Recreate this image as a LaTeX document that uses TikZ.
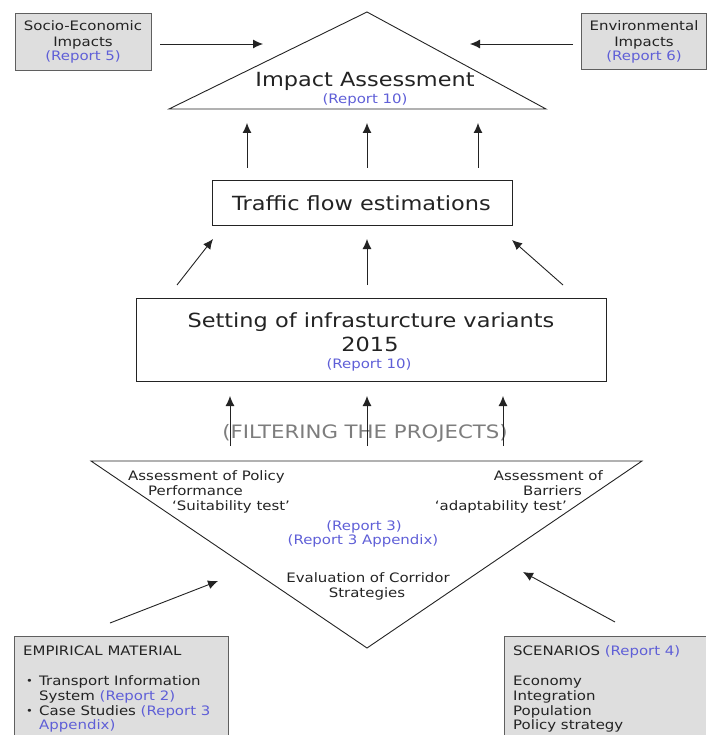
\documentclass[tikz,border=0pt]{standalone}
\usepackage{fontspec}
\setmainfont{DejaVu Sans}[FakeStretch=1.15]
\usetikzlibrary{arrows.meta,calc}
\definecolor{repc}{RGB}{95,95,215}
\definecolor{boxfill}{RGB}{222,222,222}
\definecolor{boxline}{RGB}{95,95,95}
\definecolor{filt}{RGB}{125,125,125}
\definecolor{ink}{RGB}{35,35,35}
\newcommand{\smallf}{\fontsize{13}{15}\selectfont}
\newcommand{\largef}{\fontsize{19.5}{23}\selectfont}
\newcommand{\filtf}{\fontsize{18.5}{22}\selectfont}
\newcommand{\bluetxt}[1]{\textcolor{repc}{#1}}
\begin{document}
\begin{tikzpicture}[x=1pt,y=-1pt,
  arr/.style={-{Latex[length=10pt,width=9pt]}, line width=0.9pt, draw=ink},
  ln/.style={line width=0.9pt, draw=ink},
  gbox/.style={draw=boxline, fill=boxfill, line width=0.9pt, inner sep=0pt},
  wbox/.style={draw=ink, line width=0.9pt, inner sep=0pt},
  st/.style={inner sep=0pt, text=ink, font=\smallf, anchor=base},
  stl/.style={st, anchor=base west},
  str/.style={st, anchor=base east},
  bt/.style={inner sep=0pt, text=ink, font=\largef, anchor=base},
  rt/.style={inner sep=0pt, text=repc, font=\smallf, anchor=base},
]
\useasboundingbox (0,0) rectangle (706,735);

% ---------- top side boxes ----------
\node[gbox, minimum width=136pt, minimum height=57pt] (socio) at (83,41.5) {};
\node[st] (socio1) at (83,30.7) {Socio-Economic};
\node[st] (socio2) at (83,46.5) {Impacts};
\node[rt] (socio3) at (83,60.5) {(Report 5)};

\node[gbox, minimum width=125pt, minimum height=56pt] (env) at (643.5,41) {};
\node[st] (env1) at (644,30.7) {Environmental};
\node[st] (env2) at (644,46.5) {Impacts};
\node[rt] (env3) at (644,60.5) {(Report 6)};

% ---------- impact assessment triangle ----------
\coordinate (iaTop) at (367,12);
\coordinate (iaL) at (169,109);
\coordinate (iaR) at (546,109);
\draw[ln] (iaL) -- (iaTop) -- (iaR) -- cycle;
\node[bt] (ia) at (365,87) {Impact Assessment};
\node[rt] (iarep) at (365,104) {(Report 10)};

\coordinate (sociotail) at (160,44);
\coordinate (sociohead) at (263,44);
\coordinate (envtail) at (573,44);
\coordinate (envhead) at (470,44);
\draw[arr] (sociotail) -- (sociohead);
\draw[arr] (envtail) -- (envhead);

% ---------- traffic flow ----------
\node[wbox, minimum width=300pt, minimum height=45pt] (traffic) at (362,203) {};
\node[bt] (traffictxt) at (361.5,211) {Traffic flow estimations};

\coordinate (t1a) at (247,168); \coordinate (t1b) at (247,123);
\coordinate (t2a) at (367,168); \coordinate (t2b) at (367,123);
\coordinate (t3a) at (478,168); \coordinate (t3b) at (478,123);
\draw[arr] (t1a) -- (t1b);
\draw[arr] (t2a) -- (t2b);
\draw[arr] (t3a) -- (t3b);

% ---------- setting of variants ----------
\node[wbox, minimum width=470pt, minimum height=83pt] (setting) at (371,339.5) {};
\node[bt] (set1) at (371,327) {Setting of infrasturcture variants};
\node[bt] (set2) at (370,351) {2015};
\node[rt] (set3) at (369,368) {(Report 10)};

\coordinate (s1a) at (177,285); \coordinate (s1b) at (213,239);
\coordinate (s2a) at (367,285); \coordinate (s2b) at (367,239);
\coordinate (s3a) at (563,285); \coordinate (s3b) at (512,240);
\draw[arr] (s1a) -- (s1b);
\draw[arr] (s2a) -- (s2b);
\draw[arr] (s3a) -- (s3b);

% ---------- filtering ----------
\node[inner sep=0pt, text=filt, font=\filtf, anchor=base] (filter) at (365,438) {(FILTERING THE PROJECTS)};

\coordinate (f1a) at (230,446); \coordinate (f1b) at (230,396);
\coordinate (f2a) at (367,446); \coordinate (f2b) at (367,396);
\coordinate (f3a) at (503,446); \coordinate (f3b) at (503,396);
\draw[arr] (f1a) -- (f1b);
\draw[arr] (f2a) -- (f2b);
\draw[arr] (f3a) -- (f3b);

% ---------- evaluation triangle ----------
\coordinate (evL) at (91,461);
\coordinate (evR) at (642,461);
\coordinate (evB) at (367,648);
\draw[ln] (evL) -- (evR) -- (evB) -- cycle;

\node[stl] (pol1) at (128,480) {Assessment of Policy};
\node[stl] (pol2) at (148,495) {Performance};
\node[stl] (pol3) at (172,510) {`Suitability test'};
\node[str] (bar1) at (603,480) {Assessment of};
\node[str] (bar2) at (582,495) {Barriers};
\node[str] (bar3) at (567,510) {`adaptability test'};
\node[rt] (r3) at (364,530) {(Report 3)};
\node[rt] (r3a) at (363,544) {(Report 3 Appendix)};
\node[st] (ev1) at (368,582) {Evaluation of Corridor};
\node[st] (ev2) at (367,597) {Strategies};

\coordinate (e1a) at (110,623); \coordinate (e1b) at (218,581);
\coordinate (e2a) at (615,622); \coordinate (e2b) at (523,572);
\draw[arr] (e1a) -- (e1b);
\draw[arr] (e2a) -- (e2b);

% ---------- bottom boxes ----------
\coordinate (empTL) at (14,636);
\coordinate (empBR) at (228,735);
\fill[boxfill] (empTL) rectangle (empBR);
\draw[draw=boxline, line width=0.9pt] (14,735) -- (empTL) -- (228,636) -- (228,735);
\node[stl] (emp1) at (23,655) {EMPIRICAL MATERIAL};
\node[inner sep=0pt, text=ink, font=\fontsize{10}{10}\selectfont, anchor=base west] (b1) at (26,684) {•};
\node[stl] (emp2) at (39,685) {Transport Information};
\node[stl] (emp3) at (39,700) {System \bluetxt{(Report 2)}};
\node[inner sep=0pt, text=ink, font=\fontsize{10}{10}\selectfont, anchor=base west] (b2) at (26,714) {•};
\node[stl] (emp4) at (39,715) {Case Studies \bluetxt{(Report 3}};
\node[stl, text=repc] (emp5) at (39,729) {Appendix)};

\coordinate (scTL) at (504,636);
\coordinate (scBR) at (706,735);
\fill[boxfill] (scTL) rectangle (scBR);
\draw[draw=boxline, line width=0.9pt] (504,735) -- (scTL) -- (706,636);
\node[stl] (sc1) at (513,655) {SCENARIOS \bluetxt{(Report 4)}};
\node[stl] (sc2) at (513,685) {Economy};
\node[stl] (sc3) at (513,700) {Integration};
\node[stl] (sc4) at (513,715) {Population};
\node[stl] (sc5) at (513,729) {Policy strategy};
\end{tikzpicture}
\end{document}
